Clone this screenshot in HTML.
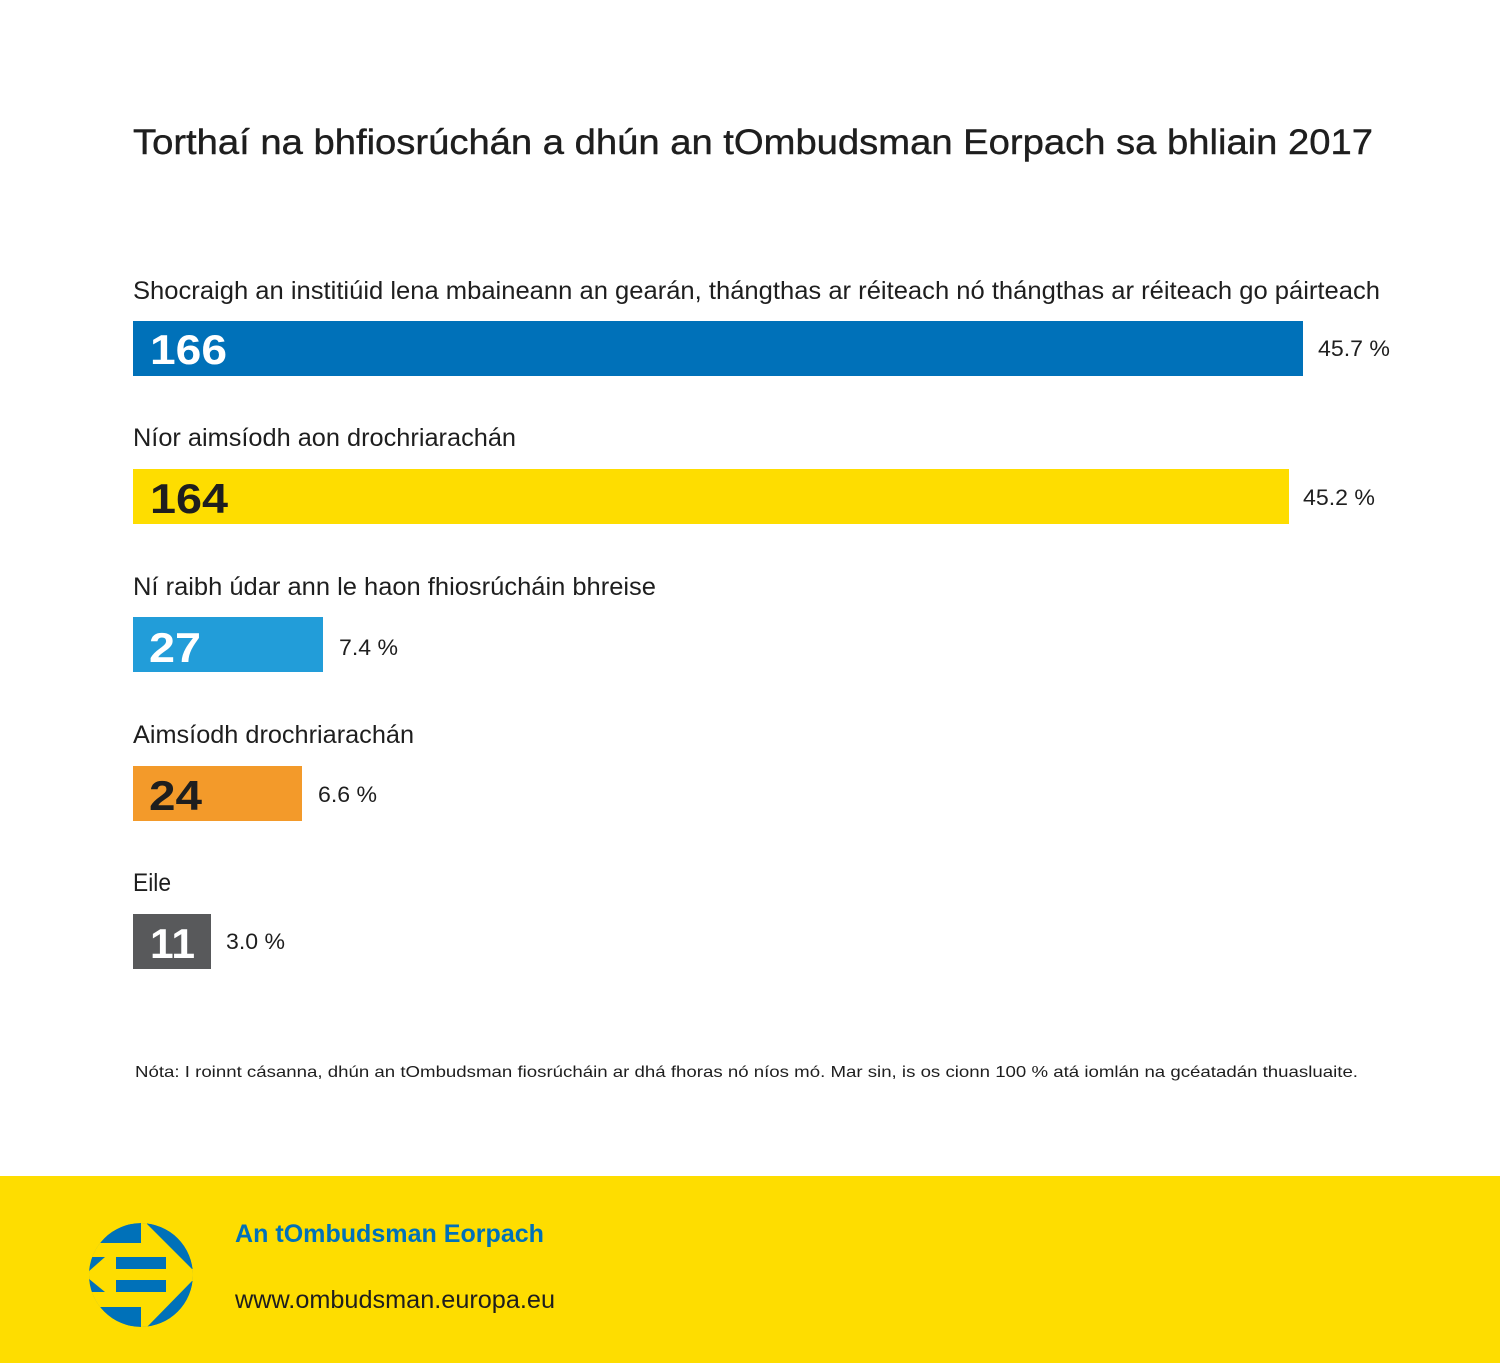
<!DOCTYPE html>
<html><head><meta charset="utf-8"><style>html,body{margin:0;padding:0;background:#fff}svg{display:block}</style></head>
<body>
<svg width="1500" height="1363" viewBox="0 0 1500 1363" xmlns="http://www.w3.org/2000/svg" font-family="'Liberation Sans', sans-serif">
<rect width="1500" height="1363" fill="#fff"/>
<text x="133" y="154" font-size="35" fill="#1e1e1e" stroke="#1e1e1e" stroke-width="0.4" textLength="1240" lengthAdjust="spacingAndGlyphs">Torthaí na bhfiosrúchán a dhún an tOmbudsman Eorpach sa bhliain 2017</text>

<g font-size="25" fill="#1e1e1e">
<text x="133" y="299" textLength="1247" lengthAdjust="spacingAndGlyphs">Shocraigh an institiúid lena mbaineann an gearán, thángthas ar réiteach nó thángthas ar réiteach go páirteach</text>
<text x="133" y="446" textLength="383" lengthAdjust="spacingAndGlyphs">Níor aimsíodh aon drochriarachán</text>
<text x="133" y="595" textLength="523" lengthAdjust="spacingAndGlyphs">Ní raibh údar ann le haon fhiosrúcháin bhreise</text>
<text x="133" y="743" textLength="281" lengthAdjust="spacingAndGlyphs">Aimsíodh drochriarachán</text>
<text x="133" y="891" textLength="38" lengthAdjust="spacingAndGlyphs">Eile</text>
</g>

<rect x="133" y="321" width="1170" height="55" fill="#0071b9"/>
<rect x="133" y="469" width="1156" height="55" fill="#fedd00"/>
<rect x="133" y="617" width="190" height="55" fill="#229dd9"/>
<rect x="133" y="766" width="169" height="55" fill="#f39a2a"/>
<rect x="133" y="914" width="78" height="55" fill="#58595b"/>

<g font-size="42" font-weight="bold">
<text x="150" y="364" fill="#fff" textLength="77" lengthAdjust="spacingAndGlyphs">166</text>
<text x="150" y="513" fill="#1e1e1e" textLength="78" lengthAdjust="spacingAndGlyphs">164</text>
<text x="149" y="662" fill="#fff" textLength="52" lengthAdjust="spacingAndGlyphs">27</text>
<text x="149" y="810" fill="#1e1e1e" textLength="53" lengthAdjust="spacingAndGlyphs">24</text>
<text x="150" y="958" fill="#fff" textLength="45" lengthAdjust="spacingAndGlyphs">11</text>
</g>

<g font-size="22" fill="#1e1e1e">
<text x="1318" y="356" textLength="72" lengthAdjust="spacingAndGlyphs">45.7 %</text>
<text x="1303" y="505" textLength="72" lengthAdjust="spacingAndGlyphs">45.2 %</text>
<text x="339" y="655" textLength="59" lengthAdjust="spacingAndGlyphs">7.4 %</text>
<text x="318" y="802" textLength="59" lengthAdjust="spacingAndGlyphs">6.6 %</text>
<text x="226" y="949" textLength="59" lengthAdjust="spacingAndGlyphs">3.0 %</text>
</g>

<text x="135" y="1077" font-size="16" fill="#1e1e1e" textLength="1223" lengthAdjust="spacingAndGlyphs">Nóta: I roinnt cásanna, dhún an tOmbudsman fiosrúcháin ar dhá fhoras nó níos mó. Mar sin, is os cionn 100 % atá iomlán na gcéatadán thuasluaite.</text>

<rect x="0" y="1176" width="1500" height="187" fill="#fedd00"/>
<defs><clipPath id="c"><circle cx="61" cy="65" r="52"/></clipPath></defs>
<g transform="translate(80,1210)">
<g clip-path="url(#c)">
<circle cx="61" cy="65" r="52" fill="#0071b9"/>
<polygon points="-5,33 61,33 61,-5 67,-5 67,14 112,59 120,59 120,71 112,71 67,117 67,140 61,140 61,97 -5,97" fill="#fedd00"/>
<rect x="36" y="47" width="50" height="12" fill="#0071b9"/>
<rect x="36" y="70" width="50" height="12" fill="#0071b9"/>
<polygon points="0,47 25,47 8,62 0,62" fill="#0071b9"/>
<polygon points="0,68 8,68 25,82 0,82" fill="#0071b9"/>
</g>
</g>
<text x="235" y="1242" font-size="25" font-weight="bold" fill="#0071b9" textLength="309" lengthAdjust="spacingAndGlyphs">An tOmbudsman Eorpach</text>
<text x="235" y="1308" font-size="25" fill="#1e1e1e" textLength="320" lengthAdjust="spacingAndGlyphs">www.ombudsman.europa.eu</text>
</svg>
</body></html>
